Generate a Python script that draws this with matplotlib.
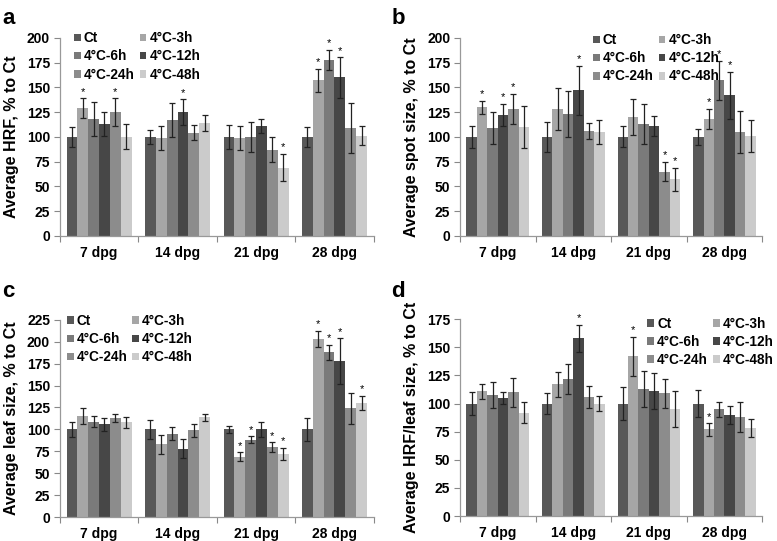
import numpy as np
import matplotlib
matplotlib.use('Agg')
import matplotlib.pyplot as plt

plt.rcParams['font.family'] = ['Liberation Sans', 'DejaVu Sans']
plt.rcParams['font.weight'] = 'bold'

groups = ['7 dpg', '14 dpg', '21 dpg', '28 dpg']
series = ['Ct', '4°C-3h', '4°C-6h', '4°C-12h', '4°C-24h', '4°C-48h']
colors = ['#585858', '#a6a6a6', '#7a7a7a', '#474747', '#8c8c8c', '#cbcbcb']

# panel a - HRF
hrf_mean = [[100, 129, 118, 113, 125, 100],
            [100, 99, 117, 125, 104, 114],
            [100, 99, 100, 111, 87, 69],
            [100, 157, 178, 160, 109, 101]]
hrf_err = [[10, 10, 17, 12, 14, 12.5],
           [7, 12, 17, 13, 7.5, 8.5],
           [12, 12, 15.5, 7.5, 12.5, 14],
           [10, 11.5, 10, 20.5, 25, 9.5]]
hrf_star = [[0, 1, 0, 0, 1, 0],
            [0, 0, 0, 1, 0, 0],
            [0, 0, 0, 0, 0, 1],
            [0, 1, 1, 1, 0, 0]]

# panel b - spot size
spot_mean = [[100, 130, 109, 122, 128, 110],
             [100, 128, 123, 147, 106, 105],
             [100, 120, 113, 111, 65, 57],
             [100, 118, 157, 142, 105, 101]]
spot_err = [[11, 6.5, 16.5, 11.5, 15.5, 21.5],
            [15, 21, 23, 24.5, 8, 12.5],
            [10.5, 18.5, 20.5, 10, 10, 12],
            [8, 10, 19.5, 24, 21, 16.5]]
spot_star = [[0, 1, 0, 1, 1, 0],
             [0, 0, 0, 1, 0, 0],
             [0, 0, 0, 0, 1, 1],
             [0, 1, 1, 1, 0, 0]]

# panel c - leaf size
leaf_mean = [[100, 115, 109, 106, 113, 108],
             [100, 83, 95, 78, 99, 114],
             [100, 69, 88, 100, 80, 72],
             [100, 203, 188, 178, 124, 130]]
leaf_err = [[9, 9, 6.5, 7.5, 4.5, 6],
            [11, 10.5, 7.5, 11, 7.5, 4],
            [4, 5, 4, 8.5, 5.5, 7],
            [13, 9.5, 8.5, 26, 17.5, 8]]
leaf_star = [[0, 0, 0, 0, 0, 0],
             [0, 0, 0, 0, 0, 0],
             [0, 1, 1, 0, 1, 1],
             [0, 1, 1, 1, 0, 1]]

# panel d - HRF / leaf size
ratio_mean = [[100, 111, 108, 105, 110, 92],
              [100, 117, 122, 158, 106, 100],
              [100, 142, 113, 111, 109, 95],
              [100, 77, 95, 90, 88, 78]]
ratio_err = [[10, 6.5, 11.5, 5.5, 13, 9],
             [9, 11, 13.5, 12, 9.5, 6.5],
             [14.5, 17.5, 16, 16, 13, 16],
             [12, 5.5, 6.5, 8, 13, 8]]
ratio_star = [[0, 0, 0, 0, 0, 0],
              [0, 0, 0, 1, 0, 0],
              [0, 1, 0, 0, 0, 0],
              [0, 1, 0, 0, 0, 0]]

panels = [
    ('a', 'Average HRF, % to Ct', hrf_mean, hrf_err, hrf_star, 200,
     [0.077, 0.564, 0.404, 0.366], (0.045, 1.033), (0.003, 0.985)),
    ('b', 'Average spot size, % to Ct', spot_mean, spot_err, spot_star, 200,
     [0.592, 0.564, 0.389, 0.366], (0.440, 1.023), (0.504, 0.985)),
    ('c', 'Average leaf size, % to Ct', leaf_mean, leaf_err, leaf_star, 225,
     [0.077, 0.044, 0.404, 0.365], (0.022, 1.028), (0.003, 0.48)),
    ('d', 'Average HRF/leaf size, % to Ct', ratio_mean, ratio_err, ratio_star, 175,
     [0.592, 0.046, 0.389, 0.364], (0.62, 1.013), (0.504, 0.48)),
]

fig = plt.figure(figsize=(7.77, 5.41), dpi=100)
bw = 0.138
order = [0, 2, 4, 1, 3, 5]  # row-wise legend in 2 columns
for letter, ylabel, mean, err, star, ymax, rect, legpos, letpos in panels:
    ax = fig.add_axes(rect)
    mean = np.array(mean)
    err = np.array(err)
    x = np.arange(len(groups))
    for k, name in enumerate(series):
        xs = x + (k - 2.5) * bw
        ax.bar(xs, mean[:, k], bw, color=colors[k], label=name, zorder=2)
        ax.errorbar(xs, mean[:, k], yerr=err[:, k], fmt='none', ecolor='#222222',
                    elinewidth=0.9, capsize=2.2, capthick=0.9, zorder=3)
        for g in range(len(groups)):
            if star[g][k]:
                ax.text(xs[g], mean[g, k] + err[g, k] + ymax * 0.008, '*',
                        ha='center', va='bottom', fontsize=8, fontweight='normal')
    ax.set_xlim(-0.5, len(groups) - 0.5)
    ax.set_ylim(0, ymax)
    ax.set_yticks(np.arange(0, ymax + 1, 25))
    ax.set_xticks(np.arange(-0.5, len(groups), 1.0))
    ax.set_xticklabels([])
    ax.set_xticks(x, minor=True)
    ax.set_xticklabels(groups, minor=True)
    ax.tick_params(axis='x', which='minor', length=0, pad=7, labelsize=10)
    ax.tick_params(axis='x', which='major', length=4, color='#888888')
    ax.tick_params(axis='y', length=4, color='#888888', labelsize=10, pad=3)
    for lab in ax.get_xticklabels(minor=True) + ax.get_yticklabels():
        lab.set_fontweight('bold')
    for s in ['top', 'right']:
        ax.spines[s].set_visible(False)
    for s in ['left', 'bottom']:
        ax.spines[s].set_color('#999999')
        ax.spines[s].set_linewidth(0.9)
    ax.set_ylabel(ylabel, fontsize=11.5, fontweight='bold', labelpad=6)
    h, l = ax.get_legend_handles_labels()
    ax.legend([h[i] for i in order], [l[i] for i in order], ncol=2,
              loc='upper left', bbox_to_anchor=legpos, frameon=False,
              handlelength=0.5, handleheight=0.5, handletextpad=0.22,
              columnspacing=0.36, labelspacing=0.3, borderaxespad=0, borderpad=0,
              prop={'weight': 'bold', 'size': 9.8})
    fig.text(letpos[0], letpos[1], letter, fontsize=16, fontweight='bold',
             ha='left', va='top')

fig.savefig('out.png', dpi=100)
